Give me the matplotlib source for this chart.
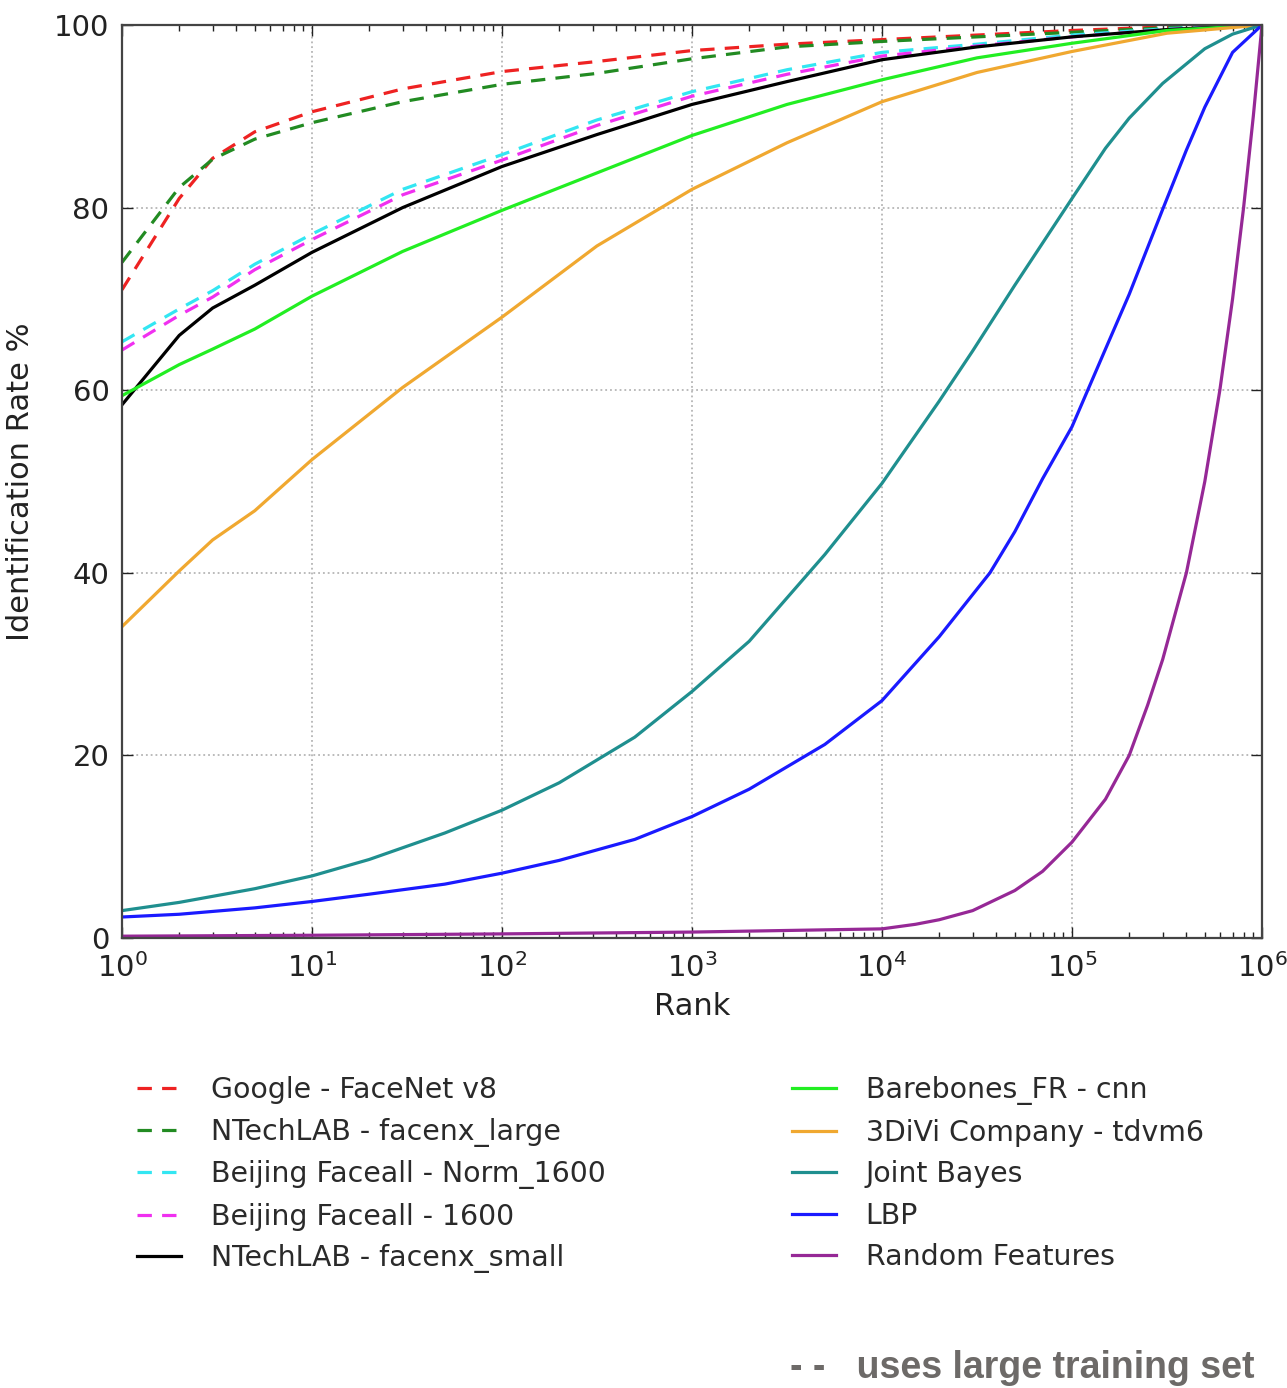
import matplotlib

matplotlib.use("Agg")
import matplotlib.pyplot as plt

# rank grid shared by the upper (strong) curves
ranks_top = [1, 2, 3, 5, 10, 30, 100, 316, 1000, 3162, 1e4, 31623, 1e5, 316228, 1e6]

google_facenet = [71.0, 81.0, 85.4, 88.3, 90.5, 93.0, 94.9, 96.0, 97.2, 97.9, 98.4, 98.9, 99.4, 99.8, 100]
ntech_large = [74.0, 82.2, 85.3, 87.5, 89.3, 91.6, 93.5, 94.7, 96.3, 97.6, 98.2, 98.7, 99.2, 99.7, 100]
faceall_norm = [65.3, 68.9, 70.9, 73.8, 77.1, 82.0, 85.8, 89.6, 92.7, 95.1, 97.0, 97.9, 98.9, 99.6, 100]
faceall_1600 = [64.4, 68.2, 70.2, 73.2, 76.5, 81.4, 85.2, 89.0, 92.2, 94.6, 96.6, 97.7, 98.7, 99.5, 100]
ntech_small = [58.4, 66.0, 69.0, 71.5, 75.1, 80.0, 84.5, 88.0, 91.3, 93.8, 96.2, 97.6, 98.7, 99.5, 100]
barebones = [59.4, 62.8, 64.5, 66.7, 70.3, 75.2, 79.7, 83.8, 87.9, 91.3, 94.0, 96.4, 98.0, 99.4, 100]
tdvm6 = [34.1, 40.2, 43.6, 46.8, 52.4, 60.3, 68.0, 75.8, 82.0, 87.1, 91.6, 94.8, 97.1, 99.1, 100]

jb_ranks = [1, 2, 5, 10, 20, 50, 100, 200, 500, 1000, 2000, 5000, 1e4, 2e4, 3e4, 5e4,
            1e5, 1.5e5, 2e5, 3e5, 5e5, 7e5, 1e6]
joint_bayes = [3.0, 3.9, 5.4, 6.8, 8.6, 11.5, 14.0, 17.0, 22.0, 27.0, 32.5, 42.0, 49.8, 58.8,
               64.3, 71.5, 81.0, 86.5, 89.8, 93.6, 97.4, 99.0, 100]

lbp_ranks = [1, 2, 5, 10, 20, 50, 100, 200, 500, 1000, 2000, 5000, 1e4, 2e4, 3.7e4, 5e4,
             7e4, 1e5, 1.5e5, 2e5, 3e5, 4e5, 5e5, 7e5, 1e6]
lbp = [2.3, 2.6, 3.3, 4.0, 4.8, 5.9, 7.1, 8.5, 10.8, 13.3, 16.3, 21.2, 26.0, 33.0, 40.0, 44.5,
       50.3, 56.0, 64.5, 70.5, 79.8, 86.3, 91.0, 97.0, 100]

rf_ranks = [1, 10, 100, 1000, 1e4, 1.5e4, 2e4, 3e4, 5e4, 7e4, 1e5, 1.5e5, 2e5, 2.5e5, 3e5,
            4e5, 5e5, 6e5, 7e5, 8e5, 9e5, 1e6]
random_feat = [0.2, 0.3, 0.45, 0.65, 1.0, 1.5, 2.0, 3.0, 5.2, 7.3, 10.5, 15.2, 20.0, 25.5,
               30.5, 40.0, 50.0, 60.0, 70.0, 80.0, 90.0, 100]

left_series = [
    ("Google - FaceNet v8", ranks_top, google_facenet, "#ee2222", "--"),
    ("NTechLAB - facenx_large", ranks_top, ntech_large, "#228b22", "--"),
    ("Beijing Faceall - Norm_1600", ranks_top, faceall_norm, "#33e6f2", "--"),
    ("Beijing Faceall - 1600", ranks_top, faceall_1600, "#f030f0", "--"),
    ("NTechLAB - facenx_small", ranks_top, ntech_small, "#000000", "-"),
]
right_series = [
    ("Barebones_FR - cnn", ranks_top, barebones, "#22ee22", "-"),
    ("3DiVi Company - tdvm6", ranks_top, tdvm6, "#f0a830", "-"),
    ("Joint Bayes", jb_ranks, joint_bayes, "#1f8f8f", "-"),
    ("LBP", lbp_ranks, lbp, "#1a1aff", "-"),
    ("Random Features", rf_ranks, random_feat, "#962896", "-"),
]

plt.rcParams["font.family"] = ["DejaVu Sans"]
fig = plt.figure(figsize=(12.87, 13.88), dpi=100)
ax = fig.add_axes([122 / 1287, 1 - 938 / 1388, 1140 / 1287, 913 / 1388])

handles_left, handles_right = [], []
for group, store in ((left_series, handles_left), (right_series, handles_right)):
    for label, x, y, color, ls in group:
        (line,) = ax.plot(x, y, color=color, linewidth=2.3, label=label)
        if ls == "--":
            line.set_dashes((4.5, 3.2))
        store.append(line)

ax.set_xscale("log")
ax.set_xlim(1, 1e6)
ax.set_ylim(0, 100)
ax.set_yticks([0, 20, 40, 60, 80, 100])
ax.grid(True, which="major", color="#b5b5b5", linestyle=":", linewidth=1.3)
ax.tick_params(which="both", direction="in", top=True, right=True, labelsize=21, colors="#222222")
ax.tick_params(which="major", length=8, width=1)
ax.tick_params(which="minor", length=4, width=1)
ax.tick_params(axis="x", pad=11)
ax.tick_params(axis="y", pad=9)
for spine in ax.spines.values():
    spine.set_color("#444444")
    spine.set_linewidth(1.6)

ax.set_xlabel("Rank", fontsize=22, color="#222222", labelpad=6)
ax.set_ylabel("Identification Rate %", fontsize=22, color="#222222", labelpad=14)

legend_kw = dict(loc="upper left", frameon=False, fontsize=20.4, handlelength=1.55,
                 handletextpad=1.05, labelspacing=0.48, borderpad=0, borderaxespad=0)
leg1 = fig.legend(handles=handles_left, bbox_to_anchor=(137 / 1287, 1 - 1076 / 1388), **legend_kw)
leg2 = fig.legend(handles=handles_right, bbox_to_anchor=(792 / 1287, 1 - 1076 / 1388), **legend_kw)
for leg in (leg1, leg2):
    for text in leg.get_texts():
        text.set_color("#2a2a2a")

fig.text(790 / 1287, 1 - 1368 / 1388, "- -   uses large training set", fontsize=27,
         fontweight="bold", family=["Liberation Sans", "DejaVu Sans"], color="#6d6a68",
         va="center", ha="left")

fig.savefig("out.png", dpi=100)
